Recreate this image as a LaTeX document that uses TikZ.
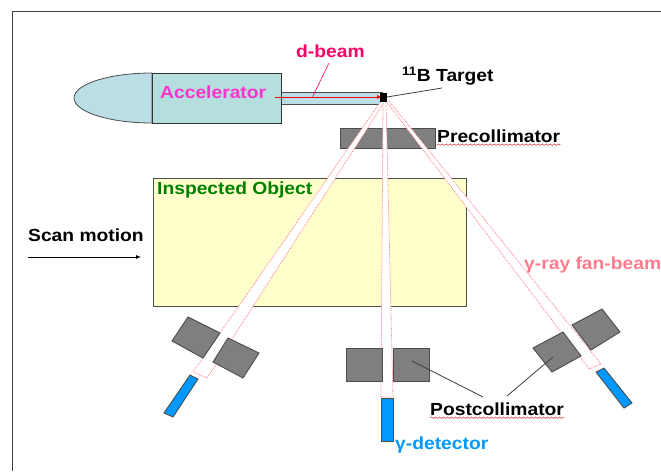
\documentclass[tikz,border=0pt]{standalone}
\usepackage{fontspec}
\setmainfont[FakeStretch=1.1]{Liberation Sans}
\usetikzlibrary{decorations.pathmorphing}
\definecolor{tealbox}{HTML}{B5DEDE}
\definecolor{tubeblue}{HTML}{BBDDE6}
\definecolor{objyellow}{HTML}{FFFFCC}
\definecolor{blockgray}{HTML}{7F7F7F}
\definecolor{detblue}{HTML}{0099FF}
\definecolor{fanpink}{HTML}{FF7C8C}
\definecolor{accpink}{HTML}{FF33CC}
\definecolor{beamred}{HTML}{FF0066}
\tikzset{
    lbl/.style={inner sep=0pt, font=\fontsize{17.5}{20}\selectfont\bfseries},
    block/.style={draw=black!70, fill=blockgray, line width=0.9pt},
    detector/.style={draw=black!70, fill=detblue, line width=0.9pt},
    fan/.style={draw=fanpink, densely dotted, fill=white, line width=0.8pt},
    leader/.style={draw=black!75, line width=0.8pt},
    squiggle/.style={draw=red!80!black, line width=0.4pt, decorate, decoration={snake, amplitude=0.8pt, segment length=4pt}}
}
\begin{document}
\begin{tikzpicture}[x=1pt, y=-1pt]
    \useasboundingbox (0, 0) rectangle (661, 471);
    % frame
    \draw[black!75, line width=1pt] (12.5, 471) -- (12.5, 11) -- (661, 11);

    % accelerator
    \draw[black!70, fill=tubeblue, line width=0.8pt] (152, 73) arc[start angle=270, end angle=90, x radius=78, y radius=25] -- cycle;
    \draw[black!70, fill=tubeblue, line width=0.8pt] (281, 92) rectangle (382, 104);
    \draw[black!80, fill=tealbox, line width=0.9pt] (152, 73) rectangle (281, 123);

    % object
    \draw[black!70, fill=objyellow, line width=0.9pt] (153, 178) rectangle (466, 306);
    \draw[block] (340, 128) rectangle (435, 148);

    % fan beams
    \draw[fan] (381, 101) -- (193, 372) -- (207, 378) -- (385, 101) -- cycle;
    \draw[fan] (383, 101) -- (381, 397) -- (393, 397) -- (386, 101) -- cycle;
    \draw[fan] (386, 101) -- (589, 369) -- (601, 364) -- (389, 101) -- cycle;

    % postcollimators
    \draw[block] (188, 317) -- (220, 333) -- (203, 358) -- (172, 341) -- cycle;
    \draw[block] (228, 338) -- (259, 353) -- (243, 378) -- (213, 362) -- cycle;
    \draw[block] (346, 348) rectangle (382, 381);
    \draw[block] (393, 348) rectangle (429, 381);
    \draw[block] (533, 348) -- (563, 332) -- (581, 356) -- (552, 372) -- cycle;
    \draw[block] (572, 325) -- (602, 309) -- (620, 332) -- (591, 350) -- cycle;

    % detectors
    \draw[detector] (190, 375) -- (198, 379) -- (173, 417) -- (164, 413) -- cycle;
    \draw[detector] (381, 398) rectangle (393, 441);
    \draw[detector] (596, 372) -- (604, 368) -- (632, 403) -- (624, 408) -- cycle;

    % target and d-beam
    \draw[red, line width=0.7pt, -latex] (275, 97) -- (382, 97);
    \fill[black] (380, 93) rectangle (387, 102);

    % labels
    \node[lbl, color=accpink, anchor=west] (acc) at (160, 92) {Accelerator};
    \node[lbl, color=beamred, anchor=west] (dbeam) at (296, 51) {d-beam};
    \node[lbl, anchor=west] (target) at (402, 76) {\textsuperscript{11}B Target};
    \node[lbl, anchor=west] (pre) at (437, 136) {Precollimator};
    \node[lbl, color=green!50!black, anchor=west] (obj) at (157, 190) {Inspected Object};
    \node[lbl, anchor=west] (scan) at (28, 235) {Scan motion};
    \node[lbl, color=fanpink, anchor=west] (fanlbl) at (524, 265) {γ-ray fan-beam};
    \node[lbl, anchor=west] (post) at (430, 409) {Postcollimator};
    \node[lbl, color=detblue, anchor=west] (det) at (395, 445) {γ-detector};

    % leaders
    \coordinate (scanA) at (28, 257);
    \coordinate (scanB) at (141, 257);
    \draw[black, line width=0.7pt, -latex] (scanA) -- (scanB);
    \coordinate (dbeamA) at (329, 63);
    \coordinate (dbeamB) at (312, 98);
    \draw[beamred, line width=0.6pt] (dbeamA) -- (dbeamB);
    \coordinate (targetA) at (442, 88);
    \coordinate (targetB) at (387, 97);
    \draw[leader] (targetA) -- (targetB);
    \coordinate (postA) at (483, 397);
    \coordinate (postB) at (412, 361);
    \draw[leader] (postA) -- (postB);
    \coordinate (postC) at (507, 396);
    \coordinate (postD) at (553, 357);
    \draw[leader] (postC) -- (postD);

    % spelling marks
    \draw[squiggle] ([yshift=-2pt]pre.south west) -- ([yshift=-2pt]pre.south east);
    \draw[squiggle] ([yshift=-2pt]post.south west) -- ([yshift=-2pt]post.south east);
\end{tikzpicture}
\end{document}
